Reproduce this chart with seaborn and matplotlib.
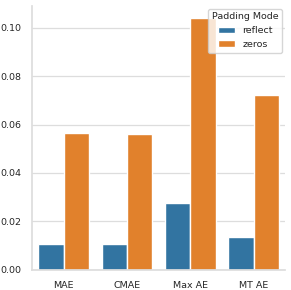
import matplotlib
matplotlib.use("Agg")
import matplotlib.pyplot as plt
import seaborn as sns
import pandas as pd

metrics = ["MAE", "CMAE", "Max AE", "MT AE"]
reflect = [0.0105, 0.0108, 0.0277, 0.0137]
zeros = [0.0564, 0.0563, 0.1039, 0.0723]
modes = ["reflect", "zeros"]

df = pd.DataFrame({
    "Metric": metrics * 2,
    "Value": reflect + zeros,
    "Padding Mode": ["reflect"] * len(metrics) + ["zeros"] * len(metrics),
})

sns.set_theme(style="whitegrid", rc={"grid.color": "#dddddd", "axes.edgecolor": "#dddddd",
                                     "grid.linewidth": 0.9})
plt.rcParams["font.family"] = ["DejaVu Sans"]

fig, ax = plt.subplots(figsize=(2.91, 2.90), dpi=100)
sns.barplot(data=df, x="Metric", y="Value", hue="Padding Mode", hue_order=modes,
            palette="tab10", ax=ax)
sns.despine(ax=ax)
ax.set_xlabel("")
ax.set_ylabel("")
ax.tick_params(labelsize=6.8, pad=2, labelcolor="#262626")
leg = ax.legend(title="Padding Mode", loc="upper right", fontsize=6.8, title_fontsize=6.8,
                borderaxespad=0.3, handlelength=1.8)
fig.subplots_adjust(left=0.11, right=0.98, top=0.98, bottom=0.07)
fig.savefig("out.png", dpi=100)
